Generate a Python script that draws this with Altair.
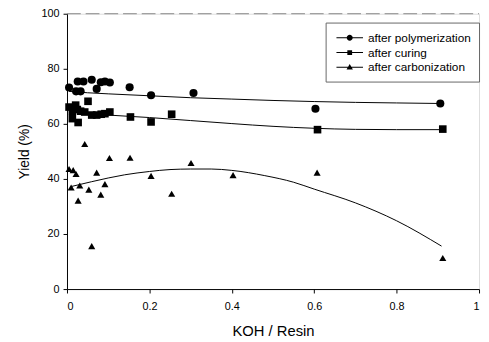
import altair as alt
import pandas as pd

# --- data ---
poly_x = [0.005, 0.026, 0.040, 0.060, 0.082, 0.092, 0.104, 0.072, 0.022, 0.033, 0.152, 0.204, 0.307, 0.603, 0.906]
poly_y = [73.2, 75.4, 75.4, 76.0, 75.1, 75.4, 75.0, 72.7, 71.8, 71.8, 73.3, 70.4, 71.2, 65.5, 67.4]

cure_x = [0.005, 0.021, 0.013, 0.025, 0.033, 0.043, 0.051, 0.013, 0.027, 0.060, 0.072, 0.083, 0.092, 0.104, 0.154, 0.204, 0.254, 0.608, 0.912]
cure_y = [66.1, 66.8, 64.6, 65.2, 64.6, 64.3, 68.2, 61.9, 60.5, 63.2, 63.2, 63.5, 63.7, 64.3, 62.5, 60.7, 63.5, 57.9, 58.1]

carb_x = [0.005, 0.015, 0.022, 0.010, 0.031, 0.027, 0.053, 0.072, 0.092, 0.082, 0.103, 0.153, 0.204, 0.254, 0.301, 0.403, 0.060, 0.043, 0.607, 0.912]
carb_y = [43.6, 43.2, 41.8, 36.9, 37.6, 32.1, 36.1, 42.3, 38.1, 34.3, 47.6, 47.7, 41.1, 34.6, 45.8, 41.4, 15.6, 52.7, 42.3, 11.3]

# fitted curves as drawn in the reference
fit_poly_x = [0.005, 0.05, 0.1, 0.2, 0.3, 0.4, 0.5, 0.6, 0.7, 0.8, 0.906]
fit_poly_y = [71.8, 71.3, 70.9, 70.2, 69.5, 69.0, 68.5, 68.1, 67.8, 67.6, 67.4]
fit_cure_x = [0.005, 0.05, 0.1, 0.2, 0.3, 0.4, 0.5, 0.6, 0.7, 0.8, 0.912]
fit_cure_y = [65.0, 63.8, 63.2, 62.3, 61.2, 60.1, 59.1, 58.4, 58.0, 57.9, 57.9]
fit_carb_x = [0.009, 0.06, 0.14, 0.2, 0.25, 0.3, 0.35, 0.4, 0.48, 0.55, 0.6, 0.7, 0.8, 0.909]
fit_carb_y = [37.2, 39.0, 41.5, 42.7, 43.4, 43.6, 43.6, 43.1, 41.2, 38.8, 36.3, 31.3, 24.8, 15.6]

series = ["after polymerization", "after curing", "after carbonization"]
x_ticks = [0, 0.2, 0.4, 0.6, 0.8, 1]
y_ticks = [0, 20, 40, 60, 80, 100]

pts = pd.concat([
    pd.DataFrame({"x": poly_x, "y": poly_y, "s": series[0]}),
    pd.DataFrame({"x": cure_x, "y": cure_y, "s": series[1]}),
    pd.DataFrame({"x": carb_x, "y": carb_y, "s": series[2]}),
])
fits = pd.concat([
    pd.DataFrame({"x": fit_poly_x, "y": fit_poly_y, "s": series[0]}),
    pd.DataFrame({"x": fit_cure_x, "y": fit_cure_y, "s": series[1]}),
    pd.DataFrame({"x": fit_carb_x, "y": fit_carb_y, "s": series[2]}),
])
dummy = pd.DataFrame({"x": [-5, -5, -5], "y": [50, 50, 50], "s": series})

FONT = "Liberation Sans"

xs = alt.Scale(domain=[0, 1], nice=False)
ys = alt.Scale(domain=[0, 100], nice=False)
xax = alt.Axis(values=x_ticks, format="~g", title="KOH / Resin", grid=False,
               labelFontSize=11, titleFontSize=15, titleFontWeight="normal",
               labelPadding=8, titlePadding=12, tickSize=4, domainColor="black",
               tickColor="black", labelColor="black", titleColor="black")
yax = alt.Axis(values=y_ticks, title="Yield (%)", grid=False,
               labelFontSize=11, titleFontSize=14, titleFontWeight="normal",
               labelPadding=4, titlePadding=10, tickSize=4, domainColor="black",
               tickColor="black", labelColor="black", titleColor="black")

shape_std = alt.Scale(domain=series, range=["circle", "square", "triangle-up"])
size_std = alt.Scale(domain=series, range=[68, 52, 80])

points = alt.Chart(pts).mark_point(filled=True, color="black", opacity=1).encode(
    x=alt.X("x:Q", scale=xs, axis=xax),
    y=alt.Y("y:Q", scale=ys, axis=yax),
    shape=alt.Shape("s:N", scale=shape_std, legend=None),
    size=alt.Size("s:N", scale=size_std, legend=None),
)

lines = alt.Chart(fits).mark_line(color="black", strokeWidth=1, interpolate="monotone").encode(
    x=alt.X("x:Q", scale=xs),
    y=alt.Y("y:Q", scale=ys),
    detail="s:N",
)

top = alt.Chart(pd.DataFrame({"a": [0]})).mark_rule(color="#888888", strokeWidth=1, strokeDash=[14, 5]).encode(
    x=alt.datum(0, scale=xs), x2=alt.datum(1), y=alt.datum(100, scale=ys)
)

BAR = "M-2,-0.075L2,-0.075L2,0.075L-2,0.075Z"
leg_paths = [
    BAR + "M-0.45,0A0.45,0.45 0 1,1 0.45,0A0.45,0.45 0 1,1 -0.45,0Z",
    BAR + "M-0.36,-0.36L0.36,-0.36L0.36,0.36L-0.36,0.36Z",
    BAR + "M0,-0.5L0.48,0.33L-0.48,0.33Z",
]
legend_layer = alt.Chart(dummy).mark_point(filled=True, color="black", opacity=1, clip=True, size=182).encode(
    x=alt.X("x:Q", scale=xs),
    y=alt.Y("y:Q", scale=ys),
    shape=alt.Shape("s:N", scale=alt.Scale(domain=series, range=leg_paths),
                    legend=alt.Legend(title=None, orient="none", legendX=263, legendY=9,
                                      padding=8, symbolOffset=9, labelOffset=11,
                                      symbolSize=182, symbolFillColor="black",
                                      labelFontSize=12, labelColor="black", labelFont=FONT,
                                      rowPadding=1, strokeColor="#666666",
                                      labelLimit=300)),
)

chart = alt.layer(top, lines, points, legend_layer).resolve_scale(shape="independent", size="independent").properties(
    width=419, height=280,
    autosize=alt.AutoSizeParams(type="none"),
    padding={"left": 60, "top": 3, "right": 2, "bottom": 51},
).configure_view(stroke=None).configure(font=FONT, background="white")

chart.save("out.html", embed_options={"renderer": "svg", "actions": False})
